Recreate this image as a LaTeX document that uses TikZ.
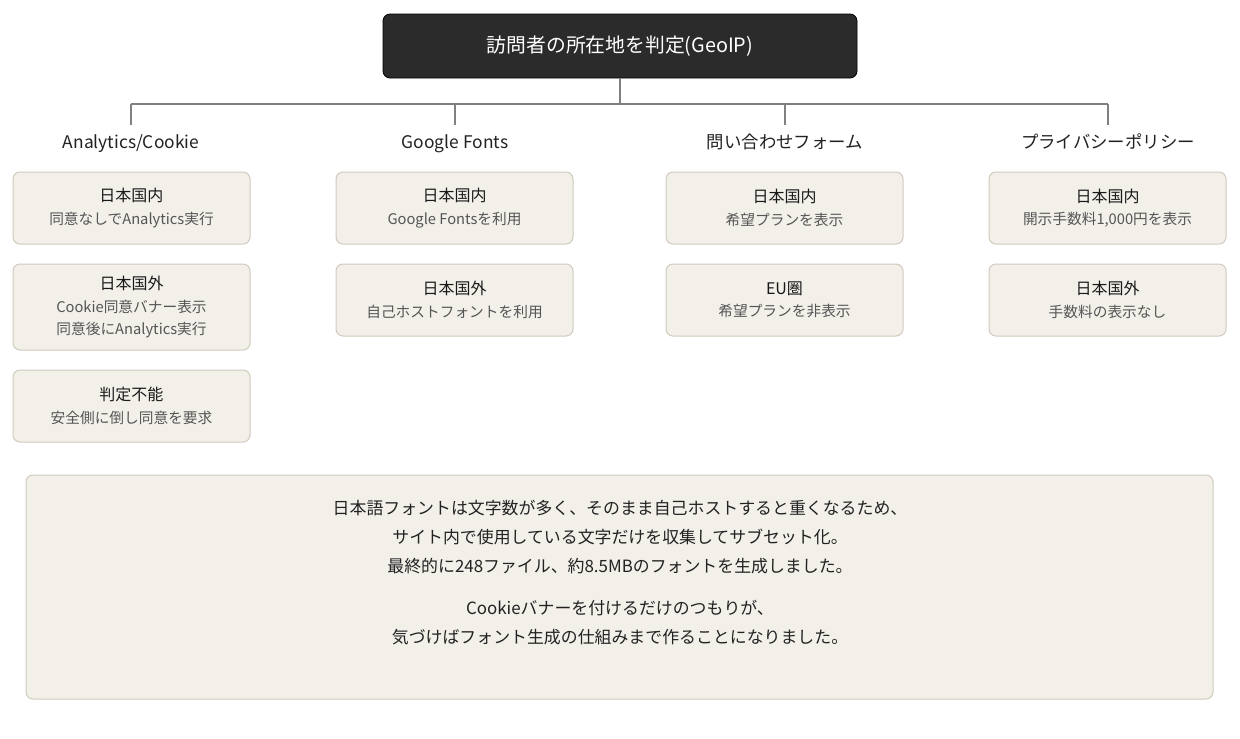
\documentclass[tikz,border=0pt]{standalone}
\usepackage{fontspec}
\setmainfont{Noto Sans CJK JP}
\definecolor{ttlc}{RGB}{26,26,26}
\newcommand{\lttl}[1]{{\fontsize{16}{24}\selectfont\color{ttlc}#1}}
\begin{document}
\begin{tikzpicture}[x=1pt,y=-1pt,
  topbox/.style={draw=black,fill={rgb,255:red,43;green,43;blue,43},rounded corners=7pt,line width=0.8pt,text=white,font=\fontsize{19.8}{24}\selectfont,minimum width=474pt,minimum height=64pt,inner sep=0pt},
  leaf/.style={draw={rgb,255:red,208;green,203;blue,190},fill={rgb,255:red,243;green,240;blue,234},rounded corners=7pt,line width=1pt,minimum width=237pt,inner sep=0pt,align=center,text={rgb,255:red,85;green,85;blue,85},font=\fontsize{14.7}{22.5}\selectfont},
  head/.style={font=\fontsize{17.4}{20}\selectfont,text={rgb,255:red,34;green,34;blue,34},inner sep=0pt,anchor=base},
  conn/.style={draw={rgb,255:red,128;green,128;blue,128},line width=2pt},
  notetext/.style={font=\fontsize{16.9}{29}\selectfont,align=center,text={rgb,255:red,34;green,34;blue,34},inner sep=0pt,anchor=north}
]
\useasboundingbox[fill=white] (0,0) rectangle (1240,739);
\node[topbox] (top) at (620,46) {訪問者の所在地を判定(GeoIP)};
\coordinate (j) at (620,104);
\coordinate (ja) at (131,104);
\coordinate (jd) at (1108,104);
\coordinate (ea) at (131,125);
\coordinate (eb) at (455,125);
\coordinate (ec) at (785,125);
\coordinate (ed) at (1108,125);
\coordinate (fb) at (455,104);
\coordinate (fc) at (785,104);
\draw[conn] (top.south) -- (j);
\draw[conn] (ja) -- (jd);
\draw[conn] (ja) -- (ea);
\draw[conn] (fb) -- (eb);
\draw[conn] (fc) -- (ec);
\draw[conn] (jd) -- (ed);
\node[head] (ha) at (131,148) {Analytics/Cookie};
\node[head] (hb) at (455,148) {Google Fonts};
\node[head] (hc) at (785,148) {問い合わせフォーム};
\node[head] (hd) at (1108,148) {プライバシーポリシー};
% column A
\node[leaf,minimum height=72pt] (a1) at (131.5,208) {\lttl{日本国内}\\同意なしでAnalytics実行};
\node[leaf,minimum height=86pt] (a2) at (131.5,307) {\lttl{日本国外}\\Cookie同意バナー表示\\同意後にAnalytics実行};
\node[leaf,minimum height=72pt] (a3) at (131.5,406) {\lttl{判定不能}\\安全側に倒し同意を要求};
% column B
\node[leaf,minimum height=72pt] (b1) at (454.5,208) {\lttl{日本国内}\\Google Fontsを利用};
\node[leaf,minimum height=72pt] (b2) at (454.5,300) {\lttl{日本国外}\\自己ホストフォントを利用};
% column C
\node[leaf,minimum height=72pt] (c1) at (784.5,208) {\lttl{日本国内}\\希望プランを表示};
\node[leaf,minimum height=72pt] (c2) at (784.5,300) {\lttl{EU圏}\\希望プランを非表示};
% column D
\node[leaf,minimum height=72pt] (d1) at (1107.5,208) {\lttl{日本国内}\\開示手数料1,000円を表示};
\node[leaf,minimum height=72pt] (d2) at (1107.5,300) {\lttl{日本国外}\\手数料の表示なし};
% bottom note
\node[leaf,minimum width=1187pt,minimum height=224pt] (note) at (619.5,587) {};
\node[notetext] (nt1) at (620,500) {日本語フォントは文字数が多く、そのまま自己ホストすると重くなるため、\\サイト内で使用している文字だけを収集してサブセット化。\\最終的に248ファイル、約8.5MBのフォントを生成しました。};
\node[notetext] (nt2) at (620,600) {Cookieバナーを付けるだけのつもりが、\\気づけばフォント生成の仕組みまで作ることになりました。};
\end{tikzpicture}
\end{document}
